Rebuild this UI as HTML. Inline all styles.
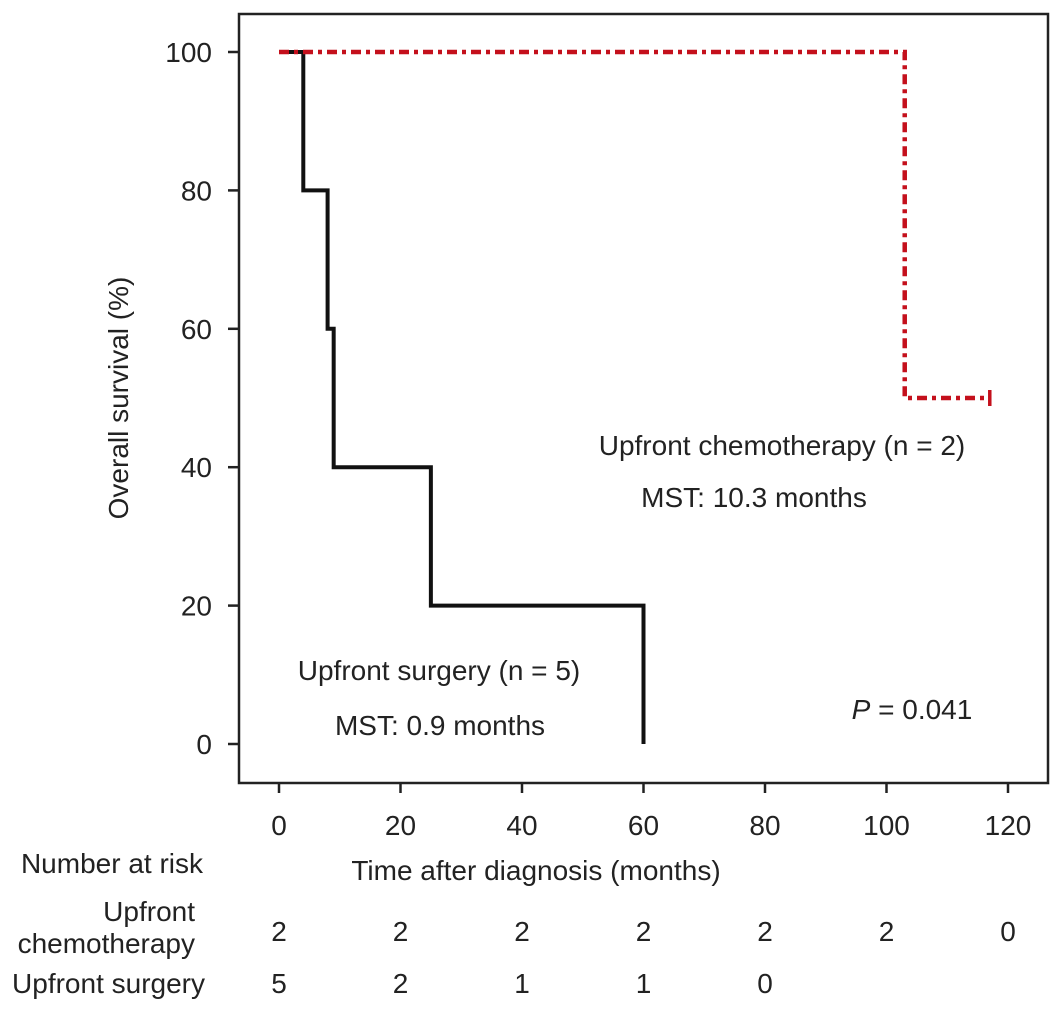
<!DOCTYPE html>
<html><head><meta charset="utf-8"><style>
body{margin:0;background:#fff;}
svg text{font-family:"Liberation Sans",Arial,sans-serif;fill:#222;}
</style></head><body>
<svg id="chart" width="1063" height="1005" viewBox="0 0 1063 1005">
<rect x="239" y="14" width="809" height="769" fill="none" stroke="#222" stroke-width="2.5"/>
<g id="axes"></g>
<g id="series"></g>
<text x="128" y="398" font-size="28" text-anchor="middle" transform="rotate(-90 128 398)">Overall survival (%)</text>
<text x="536" y="880" font-size="28" text-anchor="middle">Time after diagnosis (months)</text>
<text x="782" y="455" font-size="28" text-anchor="middle">Upfront chemotherapy (n = 2)</text>
<text x="754" y="507" font-size="28" text-anchor="middle">MST: 10.3 months</text>
<text x="439" y="680" font-size="28" text-anchor="middle">Upfront surgery (n = 5)</text>
<text x="440" y="735" font-size="28" text-anchor="middle">MST: 0.9 months</text>
<text x="912" y="719" font-size="28" text-anchor="middle"><tspan font-style="italic">P</tspan> = 0.041</text>
<text x="203" y="873" font-size="28" text-anchor="end">Number at risk</text>
<text x="195" y="921" font-size="28" text-anchor="end">Upfront</text>
<text x="195" y="953" font-size="28" text-anchor="end">chemotherapy</text>
<text x="205" y="993" font-size="28" text-anchor="end">Upfront surgery</text>
<g id="risk"></g>
</svg>
<script>
const xTicks=[0,20,40,60,80,100,120];
const yTicks=[0,20,40,60,80,100];
const surgTimes=[0,4,8,9,25,60];
const surgSurv=[100,80,60,40,20,0];
const chemoTimes=[0,103,117];
const chemoSurv=[100,50,50];
const riskTimes=[0,20,40,60,80,100,120];
const riskChemo=[2,2,2,2,2,2,0];
const riskSurg=[5,2,1,1,0];
const NS="http://www.w3.org/2000/svg";
const X=t=>279+t*6.075;
const Y=v=>744-v*6.92;
function mk(tag,attrs,parent,text){const e=document.createElementNS(NS,tag);for(const k in attrs)e.setAttribute(k,attrs[k]);if(text!==undefined)e.textContent=text;parent.appendChild(e);return e;}
const ax=document.getElementById('axes');
xTicks.forEach(t=>{
 const l=mk('line',{x1:X(t),x2:X(t),y1:783,y2:793,stroke:'#222','stroke-width':2.5},ax);
 
 
 const s=mk('text',{x:X(t),y:835,'font-size':28,'text-anchor':'middle'},ax,t);
 
 
});
yTicks.forEach(v=>{
 const l=mk('line',{x1:228,x2:239,y1:Y(v),y2:Y(v),stroke:'#222','stroke-width':2.5},ax);
 
 
 const s=mk('text',{x:212,y:Y(v)+10,'font-size':28,'text-anchor':'end'},ax,v);
 
 
});
function stepPath(ts,vs){let d='M'+X(ts[0])+','+Y(vs[0]);for(let i=1;i<ts.length;i++){d+=' H'+X(ts[i])+' V'+Y(vs[i]);}return d;}
const se=document.getElementById('series');
const sp=mk('path',{d:stepPath(surgTimes,surgSurv),fill:'none',stroke:'#111','stroke-width':4},se);


const cp=mk('path',{d:stepPath(chemoTimes,chemoSurv),fill:'none',stroke:'#c4101c','stroke-width':4.5,'stroke-dasharray':'10,5,4,5'},se);


const lt=chemoTimes[chemoTimes.length-1],lv=chemoSurv[chemoSurv.length-1];
const cc=mk('line',{x1:X(lt),x2:X(lt),y1:Y(lv)-8,y2:Y(lv)+8,stroke:'#c4101c','stroke-width':3.5},se);


const rk=document.getElementById('risk');
riskChemo.forEach((n,i)=>{const s=mk('text',{x:X(riskTimes[i]),y:941,'font-size':28,'text-anchor':'middle'},rk,n);
 
 });
riskSurg.forEach((n,i)=>{const s=mk('text',{x:X(riskTimes[i]),y:993,'font-size':28,'text-anchor':'middle'},rk,n);
 
 });
</script>
</body></html>
